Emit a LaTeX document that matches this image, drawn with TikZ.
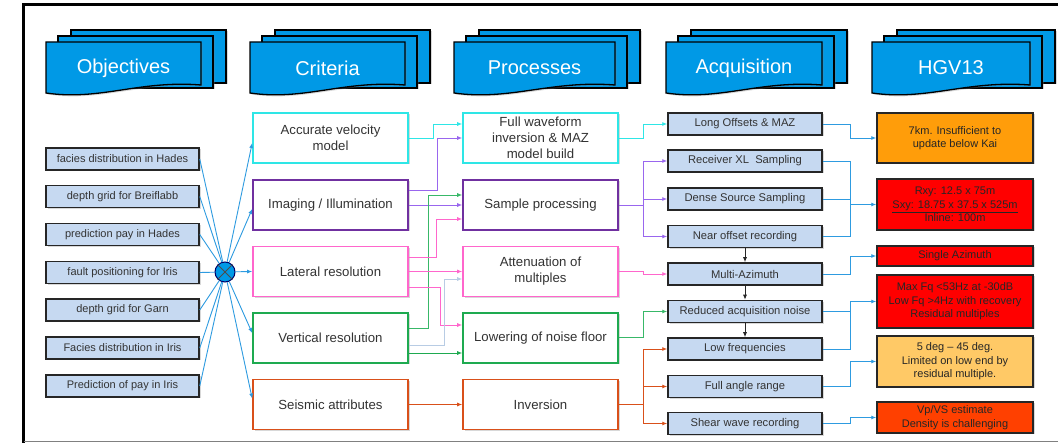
\documentclass[tikz,border=0pt]{standalone}
\usepackage{fontspec}
\setmainfont{Liberation Sans}
\usetikzlibrary{arrows.meta,shadows,calc}
\definecolor{hdrfill}{HTML}{0099E6}
\definecolor{objfill}{HTML}{C6D9F1}
\definecolor{ccyan}{HTML}{2EE6E6}
\definecolor{cpurple}{HTML}{7030A0}
\definecolor{cpink}{HTML}{FF66CC}
\definecolor{cgreen}{HTML}{1EAA50}
\definecolor{corange}{HTML}{D9501A}
\definecolor{lpurple}{HTML}{9966EE}
\definecolor{lgreen}{HTML}{38B868}
\definecolor{lgrey}{HTML}{B8CCE4}
\definecolor{conblue}{HTML}{2E9BE0}
\definecolor{hgvorange}{HTML}{FF9D0A}
\definecolor{hgvred}{HTML}{FF0000}
\definecolor{hgvlight}{HTML}{FFC966}
\definecolor{hgvredtwo}{HTML}{FF4000}
\tikzset{
  shd/.style={drop shadow={opacity=0.3,shadow xshift=1.5pt,shadow yshift=-1.5pt}},
  objbox/.style={draw=black!85, line width=1.5pt, fill=objfill, minimum width=153pt,
    minimum height=22pt, inner sep=0pt, font=\fontsize{11}{12}\selectfont, text=black!80, shd},
  acqbox/.style={objbox, minimum width=154pt, font=\fontsize{11.2}{13}\selectfont},
  critbox/.style={draw=#1, line width=1.6pt, fill=white, minimum width=155pt,
    minimum height=50pt, inner sep=0pt, align=center, font=\fontsize{13.2}{16}\selectfont,
    text=black!80, shd},
  hgvbox/.style={draw=black!85, line width=1.5pt, fill=#1, minimum width=156pt,
    inner sep=0pt, align=center, font=\fontsize{11}{13.5}\selectfont, text=black!85, shd},
  conn/.style={draw=#1, line width=0.9pt, -{Latex[length=5pt,width=4pt]}},
  plainln/.style={draw=#1, line width=0.9pt},
  docback/.style={fill=hdrfill, draw=black, line width=1.3pt, shd},
}
\newcommand{\hdrdoc}[4]{%
  \path[docback] (#2+25,30) rectangle (#3+25,83);
  \path[docback] (#2+12,36) rectangle (#3+12,88);
  \path[docback] (#2,42) -- (#3,42) -- (#3,85)
     .. controls ({#2+0.6*(#3-#2)},80) and ({#2+0.35*(#3-#2)},101) .. (#2,93) -- cycle;
  \node[text=white, font=\fontsize{20}{24}\selectfont] (#1) at ({(#2+#3)/2},68) {#4};
}
\begin{document}
\begin{tikzpicture}[x=1pt,y=-1pt]
\useasboundingbox (0,0) rectangle (1058,443);
\fill[white] (0,0) rectangle (1058,443);
% frame
\draw[line width=3pt] (23.5,443) -- (23.5,5) -- (1058,5);
\draw[gray, line width=1.5pt] (23.5,441.5) -- (1058,441.5);
% headers
\hdrdoc{hobj}{46}{201}{Objectives}
\hdrdoc{hcrit}{250}{405}{Criteria}
\hdrdoc{hproc}{454}{615}{Processes}
\hdrdoc{hacq}{666}{822}{Acquisition}
\hdrdoc{hhgv}{872}{1030}{HGV13}
% objectives
\node[objbox] (o1) at (122.5,159) {facies distribution in Hades};
\node[objbox] (o2) at (122.5,196.5) {depth grid for Breiflabb};
\node[objbox] (o3) at (122.5,234.5) {prediction pay in Hades};
\node[objbox] (o4) at (122.5,272.5) {fault positioning for Iris};
\node[objbox] (o5) at (122.5,310) {depth grid for Garn};
\node[objbox] (o6) at (122.5,348) {Facies distribution in Iris};
\node[objbox] (o7) at (122.5,386) {Prediction of pay in Iris};
% hub
\node[circle, draw=black!60!blue, fill=hdrfill, line width=1pt, minimum size=20pt, inner sep=0pt] (hub) at (225,272) {};
\draw[line width=0.8pt, black!70] (hub.north west) -- (hub.south east) (hub.north east) -- (hub.south west);
% criteria
\node[critbox=ccyan] (c1) at (330.5,138) {Accurate velocity\\model};
\node[critbox=cpurple] (c2) at (330.5,205) {Imaging / Illumination};
\node[critbox=cpink] (c3) at (330.5,271.5) {Lateral resolution};
\node[critbox=cgreen] (c4) at (330.5,338) {Vertical resolution};
\node[critbox=corange] (c5) at (330.5,404.5) {Seismic attributes};
% processes
\node[critbox=ccyan] (p1) at (540.5,138) {Full waveform\\inversion \& MAZ\\model build};
\node[critbox=cpurple] (p2) at (540.5,205) {Sample processing};
\node[critbox=cpink] (p3) at (540.5,271.5) {Attenuation of\\multiples};
\node[critbox=cgreen] (p4) at (540.5,338) {Lowering of noise floor};
\node[critbox=corange] (p5) at (540.5,404.5) {Inversion};
% acquisition
\node[acqbox] (a1) at (745,124) {Long Offsets \& MAZ};
\node[acqbox] (a2) at (745,161) {Receiver XL\ \ Sampling};
\node[acqbox] (a3) at (745,199) {Dense Source Sampling};
\node[acqbox] (a4) at (745,236.5) {Near offset recording};
\node[acqbox] (a5) at (745,274) {Multi-Azimuth};
\node[acqbox] (a6) at (745,311.5) {Reduced acquisition noise};
\node[acqbox] (a7) at (745,349) {Low frequencies};
\node[acqbox] (a8) at (745,386.5) {Full angle range};
\node[acqbox] (a9) at (745,423.5) {Shear wave recording};
% HGV13
\node[hgvbox=hgvorange, minimum height=50pt] (h1) at (955,138) {7km. Insufficient to\\update below Kai};
\node[hgvbox=hgvred, minimum height=51pt] (h2) at (955,204.5) {Rxy: 12.5 x 75m\\\underline{Sxy: 18.75 x 37.5 x 525m}\\Inline: 100m};
\node[hgvbox=hgvred, minimum height=20pt] (h3) at (955,256) {Single Azimuth};
\node[hgvbox=hgvred, minimum height=53pt] (h4) at (955,301.5) {Max Fq <53Hz at -30dB\\Low Fq >4Hz with recovery\\Residual multiples};
\node[hgvbox=hgvlight, minimum height=51pt] (h5) at (955,361.5) {5 deg – 45 deg.\\Limited on low end by\\residual multiple.};
\node[hgvbox=hgvredtwo, minimum height=31pt] (h6) at (955,417.5) {Vp/VS estimate\\Density is challenging};
% objectives -> hub
\foreach \o in {o1,o2,o3,o4,o5,o6,o7} \draw[plainln=conblue] (\o.east) -- (hub);
% hub -> criteria
\draw[conn=conblue] (hub) -- ([yshift=-5pt]c1.west);
\draw[conn=conblue] (hub) -- ([yshift=-4pt]c2.west);
\draw[conn=conblue] (hub) -- (c3.west);
\draw[conn=conblue] (hub) -- ([yshift=5pt]c4.west);
\draw[conn=conblue] (hub) -- ([yshift=6pt]c5.west);
% criteria -> processes
\draw[conn=ccyan] (c1.east) -- (433,138) |- (p1.west |- 0,124);
\draw[conn=lpurple] (c2.east |- 0,190) -- (437,190) |- (p1.west);
\draw[conn=lpurple] (c2.east) -- (p2.west);
\draw[conn=lgreen] (c4.east |- 0,328) -- (428,328) |- (p2.west |- 0,195);
\draw[conn=cpink] (c3.east |- 0,257) -- (436,257) |- (p2.west |- 0,219);
\draw[conn=cpink] (c3.east) -- (p3.west);
\draw[conn=cpink] (c3.east |- 0,287) -- (440,287) |- (p4.west |- 0,325);
\draw[conn=lgrey] (c4.east |- 0,345) -- (444,345) |- (p3.west |- 0,279);
\draw[conn=cgreen] (c4.east |- 0,353) -- (p4.west |- 0,353);
\draw[conn=corange] (c5.east) -- (p5.west);
% processes -> acquisition
\draw[conn=ccyan] (p1.east) -- (643,138) |- (a1.west);
\draw[plainln=lpurple] (p2.east) -- (643,205);
\foreach \a in {a2,a3,a4} \draw[conn=lpurple] (643,205) |- (\a.west);
\draw[conn=cpink] (p3.east) -- (643,271.5) |- (a5.west);
\draw[conn=lgreen] (p4.east |- 0,337) -- (643,337) |- (a6.west);
\draw[plainln=corange] (p5.east) -- (643,404.5);
\foreach \a in {a7,a8,a9} \draw[conn=corange] (643,404.5) |- (\a.west);
% acquisition chain
\draw[conn=black!85] (a4.south) -- (a5.north);
\draw[conn=black!85] (a5.south) -- (a6.north);
\draw[conn=black!85] (a6.south) -- (a7.north);
% acquisition -> HGV13
\draw[conn=conblue] (a1.east) -- (850,124) |- (h1.west);
\draw[conn=conblue] (a2.east) -- (850,161) |- (h2.west);
\draw[plainln=conblue] (a3.east) -- (850,199);
\draw[plainln=conblue] (a4.east) -- (850,236.5) -- (850,204.5);
\draw[conn=conblue] (a5.east) -- (850,274) |- (h3.west);
\draw[conn=conblue] (a6.east) -- (850,311.5) |- (h4.west);
\draw[plainln=conblue] (a7.east) -- (850,349) -- (850,301.5);
\draw[conn=conblue] (a8.east) -- (850,386.5) |- (h5.west);
\draw[conn=conblue] (a9.east) -- (850,423.5) |- (h6.west);
\end{tikzpicture}
\end{document}
